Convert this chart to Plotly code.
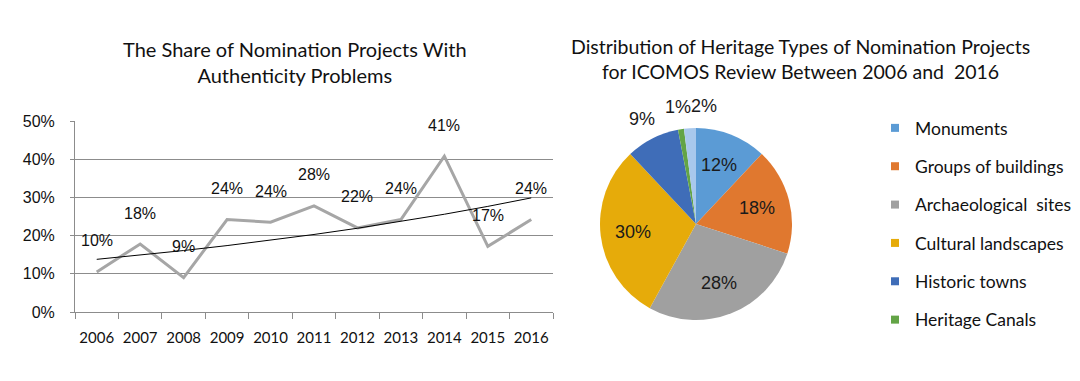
import numpy as np
import plotly.graph_objects as go

# ---- data: left chart ----
years = ["2006", "2007", "2008", "2009", "2010", "2011", "2012", "2013", "2014", "2015", "2016"]
share = [0.105, 0.178, 0.090, 0.242, 0.235, 0.278, 0.220, 0.242, 0.408, 0.172, 0.242]
share_labels = ["10%", "18%", "9%", "24%", "24%", "28%", "22%", "24%", "41%", "17%", "24%"]
y_ticks = [0, 0.1, 0.2, 0.3, 0.4, 0.5]
y_tick_text = ["0%", "10%", "20%", "30%", "40%", "50%"]

# ---- data: right chart ----
types = ["Monuments", "Groups of buildings", "Archaeological  sites", "Cultural landscapes",
         "Historic towns", "Heritage Canals", "Other"]
type_share = [12, 18, 28, 30, 9, 1, 2]
type_labels = ["12%", "18%", "28%", "30%", "9%", "1%", "2%"]
type_colors = ["#5B9BD5", "#E0782F", "#A0A0A0", "#E6AB0A", "#3F6DB8", "#63A446", "#A8C8EC"]
legend_types = types[:6]
inside_count = 4
outside_anchor = ["center", "center", "left"]

W, H = 1080, 381
PAGE_OFFSET = 8  # default body margin of the html page

def px_x(p):
    return (p - PAGE_OFFSET) / W

def px_y(p):
    return 1 - (p - PAGE_OFFSET) / H

fig = go.Figure()

# exponential trendline fitted to the series
idx = np.arange(len(years))
b, a = np.polyfit(idx, np.log(share), 1)
trend = np.exp(a + b * idx)

fig.add_trace(go.Scatter(x=years, y=share, mode="lines",
                         line=dict(color="#A6A6A6", width=3),
                         showlegend=False, hoverinfo="skip"))
fig.add_trace(go.Scatter(x=years, y=trend, mode="lines",
                         line=dict(color="#000000", width=1),
                         showlegend=False, hoverinfo="skip"))

for i, (v, t) in enumerate(zip(share, share_labels)):
    fig.add_annotation(x=i, y=v, text=t, showarrow=False, yshift=31,
                       xanchor="center", yanchor="middle",
                       font=dict(family="Liberation Sans, Arial", size=16, color="#111"),
                       xref="x", yref="y")

# pie geometry (pixels)
cx, cy, R = 696, 224, 96
fig.add_trace(go.Pie(labels=types, values=type_share,
                     textinfo="none", sort=False, direction="clockwise", rotation=0,
                     marker=dict(colors=type_colors, line=dict(width=0)),
                     domain=dict(x=[px_x(cx - R), px_x(cx + R)], y=[px_y(cy + R), px_y(cy - R)]),
                     showlegend=False, hoverinfo="skip"))

# slice labels placed along each slice's mid-angle
total = sum(type_share)
cum = np.cumsum([0] + type_share[:-1])
for i in range(len(type_share)):
    mid = (cum[i] + type_share[i] / 2) / total * 2 * np.pi
    if i < inside_count:
        rr, anchor = R * 0.66, "center"
    else:
        rr, anchor = R + 22, outside_anchor[i - inside_count]
    lx = cx + rr * np.sin(mid)
    ly = cy - rr * np.cos(mid)
    fig.add_annotation(x=px_x(lx), y=px_y(ly), xref="paper", yref="paper",
                       text=type_labels[i], showarrow=False,
                       xanchor=anchor, yanchor="middle",
                       font=dict(family="Liberation Sans, Arial", size=18, color="#1a1a1a"))

# legend entries on a hidden helper axis
for name, col in zip(legend_types, type_colors):
    fig.add_trace(go.Scatter(x=[None], y=[None], mode="markers", name=name,
                             marker=dict(symbol="square", size=8, color=col),
                             xaxis="x2", yaxis="y2",
                             legendgroup=name, showlegend=True))

fig.update_layout(
    xaxis=dict(type="category", categoryorder="array", categoryarray=years,
               range=[-0.5, len(years) - 0.5], autorange=False,
               domain=[px_x(75), px_x(553)], automargin=False,
               showline=True, linecolor="#8C8C8C", linewidth=1,
               ticks="outside", ticklen=6, tickcolor="#8C8C8C", tickson="boundaries",
               ticklabelstandoff=12,
               showgrid=False, zeroline=False, tickangle=0,
               tickfont=dict(family="Lato", size=15, color="#111")),
    yaxis=dict(domain=[px_y(312), px_y(121)], range=[0, 0.5], autorange=False,
               automargin=False,
               tickvals=y_ticks, ticktext=y_tick_text,
               showline=True, linecolor="#8C8C8C", linewidth=1,
               ticks="outside", ticklen=4, tickcolor="#8C8C8C",
               ticklabelstandoff=12,
               showgrid=True, gridcolor="#8C8C8C", gridwidth=1, zeroline=False,
               tickfont=dict(family="Liberation Sans, Arial", size=16, color="#111")),
    xaxis2=dict(visible=False, domain=[0.99, 1.0], anchor="y2"),
    yaxis2=dict(visible=False, domain=[0.0, 0.01], anchor="x2"),
)

fig.add_annotation(text="The Share of Nomination Projects With<br>Authenticity Problems",
                   x=px_x(295), y=px_y(62), xref="paper", yref="paper", showarrow=False,
                   xanchor="center", yanchor="middle",
                   font=dict(family="Lato", size=20, color="#111"), align="center")
fig.add_annotation(text="Distribution of Heritage Types of Nomination Projects<br>for ICOMOS Review Between 2006 and  2016",
                   x=px_x(800), y=px_y(59), xref="paper", yref="paper", showarrow=False,
                   xanchor="center", yanchor="middle",
                   font=dict(family="Lato", size=19.5, color="#111"), align="center")

fig.update_layout(width=W, height=H, margin=dict(l=0, r=0, t=0, b=0, autoexpand=False),
                  paper_bgcolor="white", plot_bgcolor="white",
                  legend=dict(x=px_x(875), y=px_y(110), xanchor="left", yanchor="top",
                              font=dict(family="Lato", size=17.5, color="#111"),
                              tracegroupgap=12.6, itemwidth=30, bgcolor="rgba(0,0,0,0)"))

fig.write_html("out.html")
